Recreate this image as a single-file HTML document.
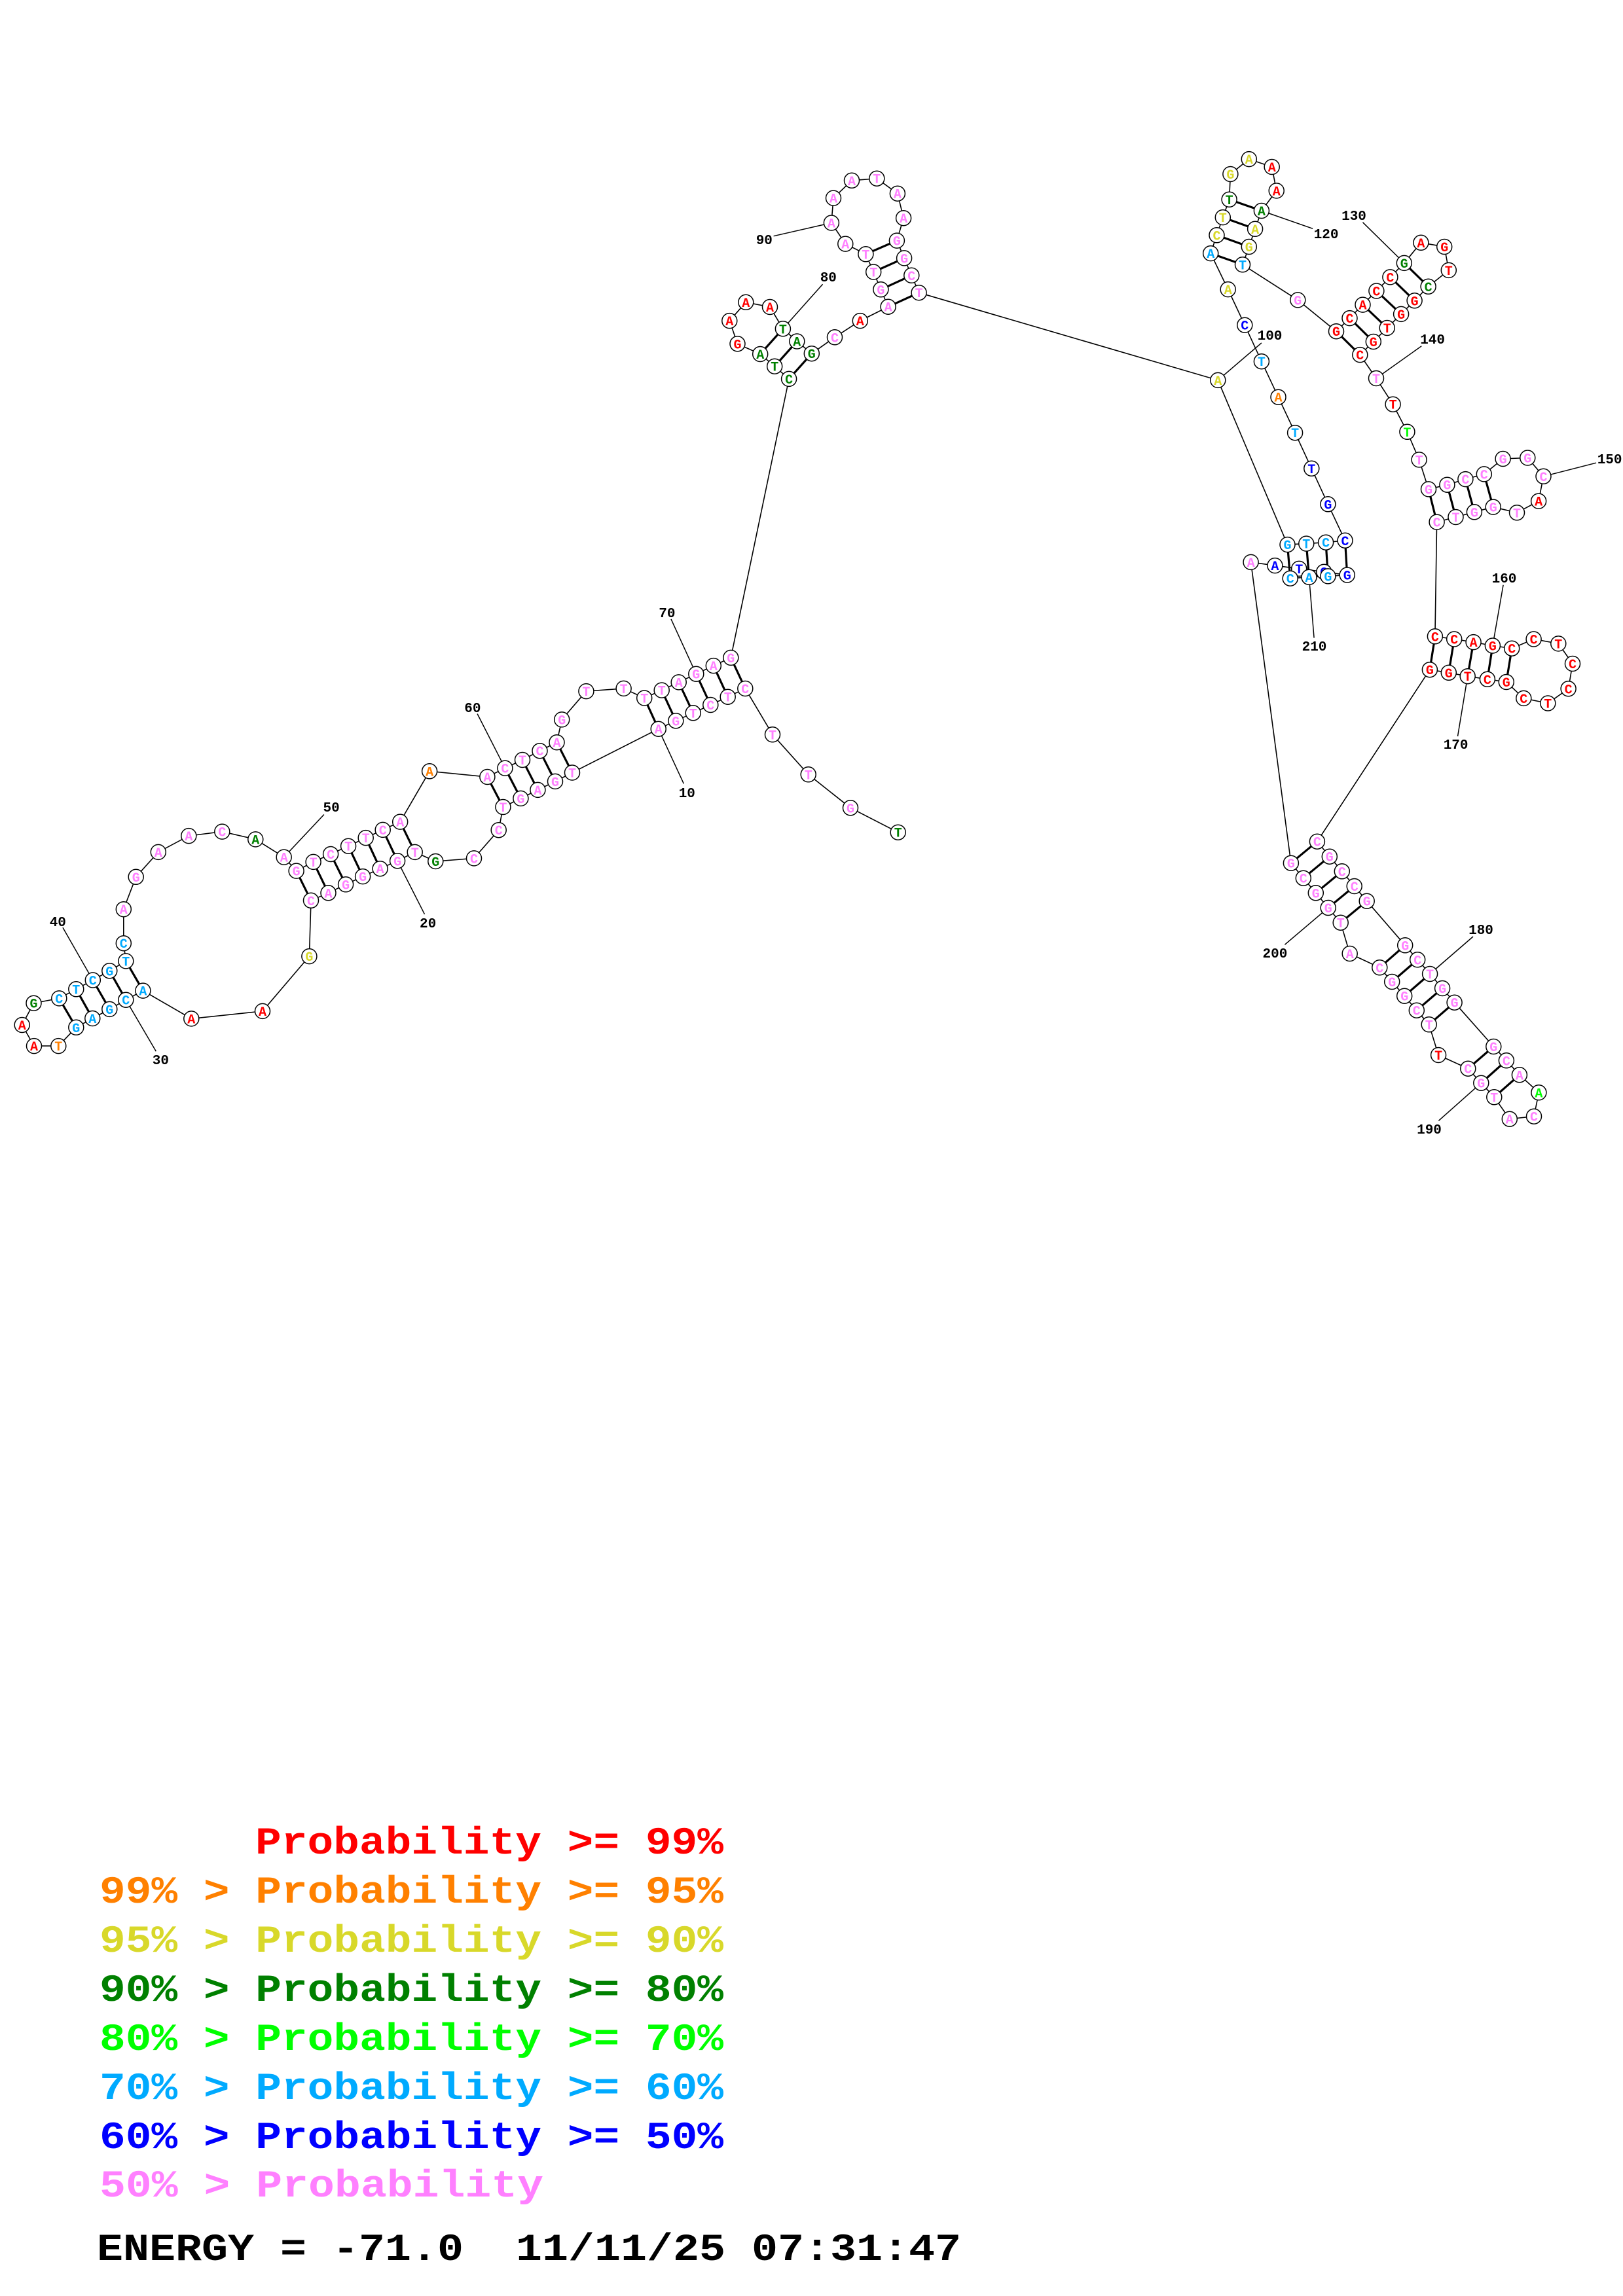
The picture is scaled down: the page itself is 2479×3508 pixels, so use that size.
<!DOCTYPE html>
<html><head><meta charset="utf-8"><title>RNA structure</title>
<style>
html,body{margin:0;padding:0;background:#fff}
svg{display:block}
.n circle{fill:#fff;stroke:#000;stroke-width:1.5}
.n text{font:bold 20px "Liberation Mono",monospace;text-anchor:middle}
.p text{fill:#ff80ff}.r text{fill:#f00}.o text{fill:#ff8000}.y text{fill:#d8d82a}.d text{fill:#008000}.l text{fill:#0f0}.c text{fill:#00aaff}.b text{fill:#00f}
.lab{font:bold 21px "Liberation Mono",monospace;text-anchor:middle;fill:#000}
.leg{font:bold 58px "Liberation Mono",monospace;white-space:pre}
</style></head><body>
<svg xmlns="http://www.w3.org/2000/svg" width="2479" height="3508" viewBox="0 0 2479 3508">
<rect width="2479" height="3508" fill="#fff"/>
<polyline fill="none" stroke="#000" stroke-width="1.6" points="1371.7,1271.7 1299,1234.3 1234.7,1183.3 1180,1122.3 1138.3,1052 1111.7,1064.7 1085.3,1077 1058.7,1089.3 1032.3,1101.3 1005.7,1113.7 874,1180.5 848,1193.9 821.4,1206.9 795.4,1219.9 768.4,1233 761.7,1268.2 724,1311.4 665.3,1316 633.7,1301.9 607.1,1315.3 580.6,1327.2 554.1,1339.1 528.1,1351.3 501.5,1364.3 475,1375.8 472.4,1461.1 401,1544.9 292.3,1556.4 218.4,1513.6 192.3,1527.7 167.3,1541.9 141.3,1556 116.3,1569.8 89.3,1598.1 52,1598.1 33.7,1566 51.5,1532.7 90.3,1525.4 116.3,1511.3 141.8,1497.5 167.3,1483.3 192.3,1468.4 188.8,1441.2 188.8,1389.2 207.7,1339.8 241.8,1301.9 288.3,1277.1 339.3,1270.6 390.3,1282.4 433.7,1309.6 452.6,1330.6 478.6,1316.9 505.1,1305 532.1,1292.7 558.7,1280.1 584.7,1267.9 611.2,1255.6 656.1,1178.3 744.4,1187 771.4,1173.6 798,1161 824.5,1147.2 850.5,1134.2 858.2,1099.4 895.4,1056.1 952.6,1051.9 984.2,1066.5 1010.7,1054.6 1036.7,1042.4 1063.3,1029.7 1089.8,1017.1 1116.3,1004.9 1205.1,578.9 1183.2,559.7 1161.2,541 1126.5,525.3 1114.3,490.1 1139.3,461.8 1176,469 1195.9,502.3 1217.3,521.5 1239.8,540.2 1275,515.3 1313.8,490.1 1356.6,468.7 1345.4,442.3 1334.2,415.5 1322.4,388.3 1291.3,372.6 1269.9,340.5 1273,302.6 1301,275.8 1339.3,272.7 1370.9,295.7 1380.1,333.2 1369.9,367.6 1381.1,394.4 1392.3,420.8 1403.6,447.2 1860.3,580.9 1966.5,832.1 1995.3,830.6 2025.1,828.7 2054.5,825.8 2028.4,770.3 2003.3,715.8 1978.1,661.2 1952.5,606.7 1926.9,552.2 1901.3,496.7 1875.7,442.1 1849.2,387.1 1858.5,359.3 1867.8,332.1 1877.6,304.8 1879.4,266 1907.8,243.1 1942.7,255 1949.7,291.4 1926.9,322 1917.1,349.8 1907.8,377 1898,404.3 1982.3,458.4 2041,506.2 2061.5,486.1 2081.5,465.6 2102.4,444.5 2123.4,423.4 2144.8,401.9 2170.4,370.8 2206.2,377 2212.8,412.9 2181.6,437.8 2160.6,459.3 2140.1,479.9 2118.7,501 2097.8,522 2077.3,542.1 2102,578 2127.6,617.7 2149.4,659.8 2167.6,702.4 2182,747.4 2210.4,740.7 2238.4,732.1 2266.8,724.4 2295.6,701 2333.3,699.5 2357.5,727.8 2350.1,765.6 2317,783.3 2280.7,774.6 2251.9,782.3 2223.5,790 2194.6,797.6 2191.9,972.3 2221.2,976.5 2250.6,981.1 2279.9,986.5 2309.2,990.7 2342.6,976.5 2380.3,983.4 2402,1014 2395.6,1052.3 2364.3,1074.5 2327.3,1066.9 2300.8,1042 2271.9,1037.8 2241.7,1033.2 2212.8,1027.8 2183.9,1023.2 2011.9,1285.7 2030.8,1308.7 2049.8,1331.3 2068.7,1354 2087.7,1376.7 2146.2,1444.3 2165.2,1466.3 2184.1,1488 2203.1,1510 2221.6,1531.7 2281.3,1599 2300.9,1620.3 2320.9,1642.3 2350.4,1669.3 2343,1705.7 2305.8,1709.7 2282.3,1676.3 2262.3,1654.7 2242.3,1632.7 2197.1,1612 2182.7,1565.3 2163.8,1543.7 2145.2,1521.7 2126.2,1500 2107.3,1478.3 2061.7,1457 2047.7,1409.7 2028.7,1387 2009.8,1364.3 1990.8,1341.7 1971.9,1318.7 1910.6,858.9 1947.4,864.1 1984.2,868.9 2022.3,873.7 2057.7,878.5 2028.4,880.4 1999.5,881.8 1970.7,883.7"/>
<path fill="none" stroke="#000" stroke-width="3.2" d="M984.2 1066.5L1005.7 1113.7M1010.7 1054.6L1032.3 1101.3M1036.7 1042.4L1058.7 1089.3M1063.3 1029.7L1085.3 1077M1089.8 1017.1L1111.7 1064.7M1116.3 1004.9L1138.3 1052M850.5 1134.2L874 1180.5M824.5 1147.2L848 1193.9M798 1161L821.4 1206.9M771.4 1173.6L795.4 1219.9M744.4 1187L768.4 1233M611.2 1255.6L633.7 1301.9M584.7 1267.9L607.1 1315.3M558.7 1280.1L580.6 1327.2M532.1 1292.7L554.1 1339.1M505.1 1305L528.1 1351.3M478.6 1316.9L501.5 1364.3M452.6 1330.6L475 1375.8M192.3 1468.4L218.4 1513.6M167.3 1483.3L192.3 1527.7M141.8 1497.5L167.3 1541.9M116.3 1511.3L141.3 1556M90.3 1525.4L116.3 1569.8M1195.9 502.3L1161.2 541M1217.3 521.5L1183.2 559.7M1239.8 540.2L1205.1 578.9M1356.6 468.7L1403.6 447.2M1345.4 442.3L1392.3 420.8M1334.2 415.5L1381.1 394.4M1322.4 388.3L1369.9 367.6M1966.5 832.1L1970.7 883.7M1995.3 830.6L1999.5 881.8M2025.1 828.7L2028.4 880.4M2054.5 825.8L2057.7 878.5M1849.2 387.1L1898 404.3M1858.5 359.3L1907.8 377M1867.8 332.1L1917.1 349.8M1877.6 304.8L1926.9 322M2041 506.2L2077.3 542.1M2061.5 486.1L2097.8 522M2081.5 465.6L2118.7 501M2102.4 444.5L2140.1 479.9M2123.4 423.4L2160.6 459.3M2144.8 401.9L2181.6 437.8M2182 747.4L2194.6 797.6M2210.4 740.7L2223.5 790M2238.4 732.1L2251.9 782.3M2266.8 724.4L2280.7 774.6M2191.9 972.3L2183.9 1023.2M2221.2 976.5L2212.8 1027.8M2250.6 981.1L2241.7 1033.2M2279.9 986.5L2271.9 1037.8M2309.2 990.7L2300.8 1042M2011.9 1285.7L1971.9 1318.7M2030.8 1308.7L1990.8 1341.7M2049.8 1331.3L2009.8 1364.3M2068.7 1354L2028.7 1387M2087.7 1376.7L2047.7 1409.7M2146.2 1444.3L2107.3 1478.3M2165.2 1466.3L2126.2 1500M2184.1 1488L2145.2 1521.7M2203.1 1510L2163.8 1543.7M2221.6 1531.7L2182.7 1565.3M2281.3 1599L2242.3 1632.7M2300.9 1620.3L2262.3 1654.7M2320.9 1642.3L2282.3 1676.3"/>
<path fill="none" stroke="#000" stroke-width="1.5" d="M1005.7 1113.7L1044.3 1197.3M607.1 1315.3L648.5 1396.8M192.3 1527.7L238.3 1606.2M141.8 1497.5L95.9 1417.1M433.7 1309.6L494.9 1244.5M771.4 1173.6L729.1 1090.6M1063.3 1029.7L1025 945.9M1195.9 502.3L1256.6 434.2M1269.9 340.5L1181.6 360.7M1860.3 580.9L1926.9 523.9M1926.9 322L2005.1 349.3M2144.8 401.9L2081.5 339.7M2102 578L2171.3 528.7M2357.5 727.8L2438.1 707.2M2279.9 986.5L2296.1 893.8M2241.7 1033.2L2226.5 1125M2184.1 1488L2250 1431M2262.3 1654.7L2197.4 1712.3M2028.7 1387L1962.4 1443.3M1999.5 881.8L2007.1 974.6"/>
<g class="lab">
<text x="1049.3" y="1218">10</text><text x="653.6" y="1417">20</text><text x="245.4" y="1626">30</text><text x="88.3" y="1415">40</text><text x="506.1" y="1240">50</text><text x="721.9" y="1088">60</text><text x="1018.9" y="943">70</text><text x="1265.3" y="430">80</text><text x="1167.3" y="373">90</text><text x="1939.5" y="519">100</text><text x="2025.6" y="364">120</text><text x="2068" y="336">130</text><text x="2188.1" y="525">140</text><text x="2458.6" y="708">150</text><text x="2297.5" y="890">160</text><text x="2223.6" y="1144">170</text><text x="2262" y="1427">180</text><text x="2183" y="1732">190</text><text x="1947.4" y="1463">200</text><text x="2007.5" y="994">210</text>
</g>
<g class="n">
<g class="d" transform="translate(1371.7 1271.7)"><circle r="11.5"/><text y="7">T</text></g>
<g class="p" transform="translate(1299 1234.3)"><circle r="11.5"/><text y="7">G</text></g>
<g class="p" transform="translate(1234.7 1183.3)"><circle r="11.5"/><text y="7">T</text></g>
<g class="p" transform="translate(1180 1122.3)"><circle r="11.5"/><text y="7">T</text></g>
<g class="p" transform="translate(1138.3 1052)"><circle r="11.5"/><text y="7">C</text></g>
<g class="p" transform="translate(1111.7 1064.7)"><circle r="11.5"/><text y="7">T</text></g>
<g class="p" transform="translate(1085.3 1077)"><circle r="11.5"/><text y="7">C</text></g>
<g class="p" transform="translate(1058.7 1089.3)"><circle r="11.5"/><text y="7">T</text></g>
<g class="p" transform="translate(1032.3 1101.3)"><circle r="11.5"/><text y="7">G</text></g>
<g class="p" transform="translate(1005.7 1113.7)"><circle r="11.5"/><text y="7">A</text></g>
<g class="p" transform="translate(874 1180.5)"><circle r="11.5"/><text y="7">T</text></g>
<g class="p" transform="translate(848 1193.9)"><circle r="11.5"/><text y="7">G</text></g>
<g class="p" transform="translate(821.4 1206.9)"><circle r="11.5"/><text y="7">A</text></g>
<g class="p" transform="translate(795.4 1219.9)"><circle r="11.5"/><text y="7">G</text></g>
<g class="p" transform="translate(768.4 1233)"><circle r="11.5"/><text y="7">T</text></g>
<g class="p" transform="translate(761.7 1268.2)"><circle r="11.5"/><text y="7">C</text></g>
<g class="p" transform="translate(724 1311.4)"><circle r="11.5"/><text y="7">C</text></g>
<g class="d" transform="translate(665.3 1316)"><circle r="11.5"/><text y="7">G</text></g>
<g class="p" transform="translate(633.7 1301.9)"><circle r="11.5"/><text y="7">T</text></g>
<g class="p" transform="translate(607.1 1315.3)"><circle r="11.5"/><text y="7">G</text></g>
<g class="p" transform="translate(580.6 1327.2)"><circle r="11.5"/><text y="7">A</text></g>
<g class="p" transform="translate(554.1 1339.1)"><circle r="11.5"/><text y="7">G</text></g>
<g class="p" transform="translate(528.1 1351.3)"><circle r="11.5"/><text y="7">G</text></g>
<g class="p" transform="translate(501.5 1364.3)"><circle r="11.5"/><text y="7">A</text></g>
<g class="p" transform="translate(475 1375.8)"><circle r="11.5"/><text y="7">C</text></g>
<g class="y" transform="translate(472.4 1461.1)"><circle r="11.5"/><text y="7">G</text></g>
<g class="r" transform="translate(401 1544.9)"><circle r="11.5"/><text y="7">A</text></g>
<g class="r" transform="translate(292.3 1556.4)"><circle r="11.5"/><text y="7">A</text></g>
<g class="c" transform="translate(218.4 1513.6)"><circle r="11.5"/><text y="7">A</text></g>
<g class="c" transform="translate(192.3 1527.7)"><circle r="11.5"/><text y="7">C</text></g>
<g class="c" transform="translate(167.3 1541.9)"><circle r="11.5"/><text y="7">G</text></g>
<g class="c" transform="translate(141.3 1556)"><circle r="11.5"/><text y="7">A</text></g>
<g class="c" transform="translate(116.3 1569.8)"><circle r="11.5"/><text y="7">G</text></g>
<g class="o" transform="translate(89.3 1598.1)"><circle r="11.5"/><text y="7">T</text></g>
<g class="r" transform="translate(52 1598.1)"><circle r="11.5"/><text y="7">A</text></g>
<g class="r" transform="translate(33.7 1566)"><circle r="11.5"/><text y="7">A</text></g>
<g class="d" transform="translate(51.5 1532.7)"><circle r="11.5"/><text y="7">G</text></g>
<g class="c" transform="translate(90.3 1525.4)"><circle r="11.5"/><text y="7">C</text></g>
<g class="c" transform="translate(116.3 1511.3)"><circle r="11.5"/><text y="7">T</text></g>
<g class="c" transform="translate(141.8 1497.5)"><circle r="11.5"/><text y="7">C</text></g>
<g class="c" transform="translate(167.3 1483.3)"><circle r="11.5"/><text y="7">G</text></g>
<g class="c" transform="translate(192.3 1468.4)"><circle r="11.5"/><text y="7">T</text></g>
<g class="c" transform="translate(188.8 1441.2)"><circle r="11.5"/><text y="7">C</text></g>
<g class="p" transform="translate(188.8 1389.2)"><circle r="11.5"/><text y="7">A</text></g>
<g class="p" transform="translate(207.7 1339.8)"><circle r="11.5"/><text y="7">G</text></g>
<g class="p" transform="translate(241.8 1301.9)"><circle r="11.5"/><text y="7">A</text></g>
<g class="p" transform="translate(288.3 1277.1)"><circle r="11.5"/><text y="7">A</text></g>
<g class="p" transform="translate(339.3 1270.6)"><circle r="11.5"/><text y="7">C</text></g>
<g class="d" transform="translate(390.3 1282.4)"><circle r="11.5"/><text y="7">A</text></g>
<g class="p" transform="translate(433.7 1309.6)"><circle r="11.5"/><text y="7">A</text></g>
<g class="p" transform="translate(452.6 1330.6)"><circle r="11.5"/><text y="7">G</text></g>
<g class="p" transform="translate(478.6 1316.9)"><circle r="11.5"/><text y="7">T</text></g>
<g class="p" transform="translate(505.1 1305)"><circle r="11.5"/><text y="7">C</text></g>
<g class="p" transform="translate(532.1 1292.7)"><circle r="11.5"/><text y="7">T</text></g>
<g class="p" transform="translate(558.7 1280.1)"><circle r="11.5"/><text y="7">T</text></g>
<g class="p" transform="translate(584.7 1267.9)"><circle r="11.5"/><text y="7">C</text></g>
<g class="p" transform="translate(611.2 1255.6)"><circle r="11.5"/><text y="7">A</text></g>
<g class="o" transform="translate(656.1 1178.3)"><circle r="11.5"/><text y="7">A</text></g>
<g class="p" transform="translate(744.4 1187)"><circle r="11.5"/><text y="7">A</text></g>
<g class="p" transform="translate(771.4 1173.6)"><circle r="11.5"/><text y="7">C</text></g>
<g class="p" transform="translate(798 1161)"><circle r="11.5"/><text y="7">T</text></g>
<g class="p" transform="translate(824.5 1147.2)"><circle r="11.5"/><text y="7">C</text></g>
<g class="p" transform="translate(850.5 1134.2)"><circle r="11.5"/><text y="7">A</text></g>
<g class="p" transform="translate(858.2 1099.4)"><circle r="11.5"/><text y="7">G</text></g>
<g class="p" transform="translate(895.4 1056.1)"><circle r="11.5"/><text y="7">T</text></g>
<g class="p" transform="translate(952.6 1051.9)"><circle r="11.5"/><text y="7">T</text></g>
<g class="p" transform="translate(984.2 1066.5)"><circle r="11.5"/><text y="7">T</text></g>
<g class="p" transform="translate(1010.7 1054.6)"><circle r="11.5"/><text y="7">T</text></g>
<g class="p" transform="translate(1036.7 1042.4)"><circle r="11.5"/><text y="7">A</text></g>
<g class="p" transform="translate(1063.3 1029.7)"><circle r="11.5"/><text y="7">G</text></g>
<g class="p" transform="translate(1089.8 1017.1)"><circle r="11.5"/><text y="7">A</text></g>
<g class="p" transform="translate(1116.3 1004.9)"><circle r="11.5"/><text y="7">G</text></g>
<g class="d" transform="translate(1205.1 578.9)"><circle r="11.5"/><text y="7">C</text></g>
<g class="d" transform="translate(1183.2 559.7)"><circle r="11.5"/><text y="7">T</text></g>
<g class="d" transform="translate(1161.2 541)"><circle r="11.5"/><text y="7">A</text></g>
<g class="r" transform="translate(1126.5 525.3)"><circle r="11.5"/><text y="7">G</text></g>
<g class="r" transform="translate(1114.3 490.1)"><circle r="11.5"/><text y="7">A</text></g>
<g class="r" transform="translate(1139.3 461.8)"><circle r="11.5"/><text y="7">A</text></g>
<g class="r" transform="translate(1176 469)"><circle r="11.5"/><text y="7">A</text></g>
<g class="d" transform="translate(1195.9 502.3)"><circle r="11.5"/><text y="7">T</text></g>
<g class="d" transform="translate(1217.3 521.5)"><circle r="11.5"/><text y="7">A</text></g>
<g class="d" transform="translate(1239.8 540.2)"><circle r="11.5"/><text y="7">G</text></g>
<g class="p" transform="translate(1275 515.3)"><circle r="11.5"/><text y="7">C</text></g>
<g class="r" transform="translate(1313.8 490.1)"><circle r="11.5"/><text y="7">A</text></g>
<g class="p" transform="translate(1356.6 468.7)"><circle r="11.5"/><text y="7">A</text></g>
<g class="p" transform="translate(1345.4 442.3)"><circle r="11.5"/><text y="7">G</text></g>
<g class="p" transform="translate(1334.2 415.5)"><circle r="11.5"/><text y="7">T</text></g>
<g class="p" transform="translate(1322.4 388.3)"><circle r="11.5"/><text y="7">T</text></g>
<g class="p" transform="translate(1291.3 372.6)"><circle r="11.5"/><text y="7">A</text></g>
<g class="p" transform="translate(1269.9 340.5)"><circle r="11.5"/><text y="7">A</text></g>
<g class="p" transform="translate(1273 302.6)"><circle r="11.5"/><text y="7">A</text></g>
<g class="p" transform="translate(1301 275.8)"><circle r="11.5"/><text y="7">A</text></g>
<g class="p" transform="translate(1339.3 272.7)"><circle r="11.5"/><text y="7">T</text></g>
<g class="p" transform="translate(1370.9 295.7)"><circle r="11.5"/><text y="7">A</text></g>
<g class="p" transform="translate(1380.1 333.2)"><circle r="11.5"/><text y="7">A</text></g>
<g class="p" transform="translate(1369.9 367.6)"><circle r="11.5"/><text y="7">G</text></g>
<g class="p" transform="translate(1381.1 394.4)"><circle r="11.5"/><text y="7">G</text></g>
<g class="p" transform="translate(1392.3 420.8)"><circle r="11.5"/><text y="7">C</text></g>
<g class="p" transform="translate(1403.6 447.2)"><circle r="11.5"/><text y="7">T</text></g>
<g class="y" transform="translate(1860.3 580.9)"><circle r="11.5"/><text y="7">A</text></g>
<g class="c" transform="translate(1966.5 832.1)"><circle r="11.5"/><text y="7">G</text></g>
<g class="c" transform="translate(1995.3 830.6)"><circle r="11.5"/><text y="7">T</text></g>
<g class="c" transform="translate(2025.1 828.7)"><circle r="11.5"/><text y="7">C</text></g>
<g class="b" transform="translate(2054.5 825.8)"><circle r="11.5"/><text y="7">C</text></g>
<g class="b" transform="translate(2028.4 770.3)"><circle r="11.5"/><text y="7">G</text></g>
<g class="b" transform="translate(2003.3 715.8)"><circle r="11.5"/><text y="7">T</text></g>
<g class="c" transform="translate(1978.1 661.2)"><circle r="11.5"/><text y="7">T</text></g>
<g class="o" transform="translate(1952.5 606.7)"><circle r="11.5"/><text y="7">A</text></g>
<g class="c" transform="translate(1926.9 552.2)"><circle r="11.5"/><text y="7">T</text></g>
<g class="b" transform="translate(1901.3 496.7)"><circle r="11.5"/><text y="7">C</text></g>
<g class="y" transform="translate(1875.7 442.1)"><circle r="11.5"/><text y="7">A</text></g>
<g class="c" transform="translate(1849.2 387.1)"><circle r="11.5"/><text y="7">A</text></g>
<g class="y" transform="translate(1858.5 359.3)"><circle r="11.5"/><text y="7">C</text></g>
<g class="y" transform="translate(1867.8 332.1)"><circle r="11.5"/><text y="7">T</text></g>
<g class="d" transform="translate(1877.6 304.8)"><circle r="11.5"/><text y="7">T</text></g>
<g class="y" transform="translate(1879.4 266)"><circle r="11.5"/><text y="7">G</text></g>
<g class="y" transform="translate(1907.8 243.1)"><circle r="11.5"/><text y="7">A</text></g>
<g class="r" transform="translate(1942.7 255)"><circle r="11.5"/><text y="7">A</text></g>
<g class="r" transform="translate(1949.7 291.4)"><circle r="11.5"/><text y="7">A</text></g>
<g class="d" transform="translate(1926.9 322)"><circle r="11.5"/><text y="7">A</text></g>
<g class="y" transform="translate(1917.1 349.8)"><circle r="11.5"/><text y="7">A</text></g>
<g class="y" transform="translate(1907.8 377)"><circle r="11.5"/><text y="7">G</text></g>
<g class="c" transform="translate(1898 404.3)"><circle r="11.5"/><text y="7">T</text></g>
<g class="p" transform="translate(1982.3 458.4)"><circle r="11.5"/><text y="7">G</text></g>
<g class="r" transform="translate(2041 506.2)"><circle r="11.5"/><text y="7">G</text></g>
<g class="r" transform="translate(2061.5 486.1)"><circle r="11.5"/><text y="7">C</text></g>
<g class="r" transform="translate(2081.5 465.6)"><circle r="11.5"/><text y="7">A</text></g>
<g class="r" transform="translate(2102.4 444.5)"><circle r="11.5"/><text y="7">C</text></g>
<g class="r" transform="translate(2123.4 423.4)"><circle r="11.5"/><text y="7">C</text></g>
<g class="d" transform="translate(2144.8 401.9)"><circle r="11.5"/><text y="7">G</text></g>
<g class="r" transform="translate(2170.4 370.8)"><circle r="11.5"/><text y="7">A</text></g>
<g class="r" transform="translate(2206.2 377)"><circle r="11.5"/><text y="7">G</text></g>
<g class="r" transform="translate(2212.8 412.9)"><circle r="11.5"/><text y="7">T</text></g>
<g class="d" transform="translate(2181.6 437.8)"><circle r="11.5"/><text y="7">C</text></g>
<g class="r" transform="translate(2160.6 459.3)"><circle r="11.5"/><text y="7">G</text></g>
<g class="r" transform="translate(2140.1 479.9)"><circle r="11.5"/><text y="7">G</text></g>
<g class="r" transform="translate(2118.7 501)"><circle r="11.5"/><text y="7">T</text></g>
<g class="r" transform="translate(2097.8 522)"><circle r="11.5"/><text y="7">G</text></g>
<g class="r" transform="translate(2077.3 542.1)"><circle r="11.5"/><text y="7">C</text></g>
<g class="p" transform="translate(2102 578)"><circle r="11.5"/><text y="7">T</text></g>
<g class="r" transform="translate(2127.6 617.7)"><circle r="11.5"/><text y="7">T</text></g>
<g class="l" transform="translate(2149.4 659.8)"><circle r="11.5"/><text y="7">T</text></g>
<g class="p" transform="translate(2167.6 702.4)"><circle r="11.5"/><text y="7">T</text></g>
<g class="p" transform="translate(2182 747.4)"><circle r="11.5"/><text y="7">G</text></g>
<g class="p" transform="translate(2210.4 740.7)"><circle r="11.5"/><text y="7">G</text></g>
<g class="p" transform="translate(2238.4 732.1)"><circle r="11.5"/><text y="7">C</text></g>
<g class="p" transform="translate(2266.8 724.4)"><circle r="11.5"/><text y="7">C</text></g>
<g class="p" transform="translate(2295.6 701)"><circle r="11.5"/><text y="7">G</text></g>
<g class="p" transform="translate(2333.3 699.5)"><circle r="11.5"/><text y="7">G</text></g>
<g class="p" transform="translate(2357.5 727.8)"><circle r="11.5"/><text y="7">C</text></g>
<g class="r" transform="translate(2350.1 765.6)"><circle r="11.5"/><text y="7">A</text></g>
<g class="p" transform="translate(2317 783.3)"><circle r="11.5"/><text y="7">T</text></g>
<g class="p" transform="translate(2280.7 774.6)"><circle r="11.5"/><text y="7">G</text></g>
<g class="p" transform="translate(2251.9 782.3)"><circle r="11.5"/><text y="7">G</text></g>
<g class="p" transform="translate(2223.5 790)"><circle r="11.5"/><text y="7">T</text></g>
<g class="p" transform="translate(2194.6 797.6)"><circle r="11.5"/><text y="7">C</text></g>
<g class="r" transform="translate(2191.9 972.3)"><circle r="11.5"/><text y="7">C</text></g>
<g class="r" transform="translate(2221.2 976.5)"><circle r="11.5"/><text y="7">C</text></g>
<g class="r" transform="translate(2250.6 981.1)"><circle r="11.5"/><text y="7">A</text></g>
<g class="r" transform="translate(2279.9 986.5)"><circle r="11.5"/><text y="7">G</text></g>
<g class="r" transform="translate(2309.2 990.7)"><circle r="11.5"/><text y="7">C</text></g>
<g class="r" transform="translate(2342.6 976.5)"><circle r="11.5"/><text y="7">C</text></g>
<g class="r" transform="translate(2380.3 983.4)"><circle r="11.5"/><text y="7">T</text></g>
<g class="r" transform="translate(2402 1014)"><circle r="11.5"/><text y="7">C</text></g>
<g class="r" transform="translate(2395.6 1052.3)"><circle r="11.5"/><text y="7">C</text></g>
<g class="r" transform="translate(2364.3 1074.5)"><circle r="11.5"/><text y="7">T</text></g>
<g class="r" transform="translate(2327.3 1066.9)"><circle r="11.5"/><text y="7">C</text></g>
<g class="r" transform="translate(2300.8 1042)"><circle r="11.5"/><text y="7">G</text></g>
<g class="r" transform="translate(2271.9 1037.8)"><circle r="11.5"/><text y="7">C</text></g>
<g class="r" transform="translate(2241.7 1033.2)"><circle r="11.5"/><text y="7">T</text></g>
<g class="r" transform="translate(2212.8 1027.8)"><circle r="11.5"/><text y="7">G</text></g>
<g class="r" transform="translate(2183.9 1023.2)"><circle r="11.5"/><text y="7">G</text></g>
<g class="p" transform="translate(2011.9 1285.7)"><circle r="11.5"/><text y="7">C</text></g>
<g class="p" transform="translate(2030.8 1308.7)"><circle r="11.5"/><text y="7">G</text></g>
<g class="p" transform="translate(2049.8 1331.3)"><circle r="11.5"/><text y="7">C</text></g>
<g class="p" transform="translate(2068.7 1354)"><circle r="11.5"/><text y="7">C</text></g>
<g class="p" transform="translate(2087.7 1376.7)"><circle r="11.5"/><text y="7">G</text></g>
<g class="p" transform="translate(2146.2 1444.3)"><circle r="11.5"/><text y="7">G</text></g>
<g class="p" transform="translate(2165.2 1466.3)"><circle r="11.5"/><text y="7">C</text></g>
<g class="p" transform="translate(2184.1 1488)"><circle r="11.5"/><text y="7">T</text></g>
<g class="p" transform="translate(2203.1 1510)"><circle r="11.5"/><text y="7">G</text></g>
<g class="p" transform="translate(2221.6 1531.7)"><circle r="11.5"/><text y="7">G</text></g>
<g class="p" transform="translate(2281.3 1599)"><circle r="11.5"/><text y="7">G</text></g>
<g class="p" transform="translate(2300.9 1620.3)"><circle r="11.5"/><text y="7">C</text></g>
<g class="p" transform="translate(2320.9 1642.3)"><circle r="11.5"/><text y="7">A</text></g>
<g class="l" transform="translate(2350.4 1669.3)"><circle r="11.5"/><text y="7">A</text></g>
<g class="p" transform="translate(2343 1705.7)"><circle r="11.5"/><text y="7">C</text></g>
<g class="p" transform="translate(2305.8 1709.7)"><circle r="11.5"/><text y="7">A</text></g>
<g class="p" transform="translate(2282.3 1676.3)"><circle r="11.5"/><text y="7">T</text></g>
<g class="p" transform="translate(2262.3 1654.7)"><circle r="11.5"/><text y="7">G</text></g>
<g class="p" transform="translate(2242.3 1632.7)"><circle r="11.5"/><text y="7">C</text></g>
<g class="r" transform="translate(2197.1 1612)"><circle r="11.5"/><text y="7">T</text></g>
<g class="p" transform="translate(2182.7 1565.3)"><circle r="11.5"/><text y="7">T</text></g>
<g class="p" transform="translate(2163.8 1543.7)"><circle r="11.5"/><text y="7">C</text></g>
<g class="p" transform="translate(2145.2 1521.7)"><circle r="11.5"/><text y="7">G</text></g>
<g class="p" transform="translate(2126.2 1500)"><circle r="11.5"/><text y="7">G</text></g>
<g class="p" transform="translate(2107.3 1478.3)"><circle r="11.5"/><text y="7">C</text></g>
<g class="p" transform="translate(2061.7 1457)"><circle r="11.5"/><text y="7">A</text></g>
<g class="p" transform="translate(2047.7 1409.7)"><circle r="11.5"/><text y="7">T</text></g>
<g class="p" transform="translate(2028.7 1387)"><circle r="11.5"/><text y="7">G</text></g>
<g class="p" transform="translate(2009.8 1364.3)"><circle r="11.5"/><text y="7">G</text></g>
<g class="p" transform="translate(1990.8 1341.7)"><circle r="11.5"/><text y="7">C</text></g>
<g class="p" transform="translate(1971.9 1318.7)"><circle r="11.5"/><text y="7">G</text></g>
<g class="p" transform="translate(1910.6 858.9)"><circle r="11.5"/><text y="7">A</text></g>
<g class="b" transform="translate(1947.4 864.1)"><circle r="11.5"/><text y="7">A</text></g>
<g class="b" transform="translate(1984.2 868.9)"><circle r="11.5"/><text y="7">T</text></g>
<g class="b" transform="translate(2022.3 873.7)"><circle r="11.5"/><text y="7">C</text></g>
<g class="b" transform="translate(2057.7 878.5)"><circle r="11.5"/><text y="7">G</text></g>
<g class="c" transform="translate(2028.4 880.4)"><circle r="11.5"/><text y="7">G</text></g>
<g class="c" transform="translate(1999.5 881.8)"><circle r="11.5"/><text y="7">A</text></g>
<g class="c" transform="translate(1970.7 883.7)"><circle r="11.5"/><text y="7">C</text></g>
</g>
<g class="leg">
<text x="390" y="2832" fill="#ff0000" textLength="715" lengthAdjust="spacingAndGlyphs" xml:space="preserve">Probability &gt;= 99%</text>
<text x="152" y="2907" fill="#ff8000" textLength="953" lengthAdjust="spacingAndGlyphs" xml:space="preserve">99% &gt; Probability &gt;= 95%</text>
<text x="152" y="2982" fill="#d8d82a" textLength="953" lengthAdjust="spacingAndGlyphs" xml:space="preserve">95% &gt; Probability &gt;= 90%</text>
<text x="152" y="3057" fill="#008000" textLength="953" lengthAdjust="spacingAndGlyphs" xml:space="preserve">90% &gt; Probability &gt;= 80%</text>
<text x="152" y="3132" fill="#00ff00" textLength="953" lengthAdjust="spacingAndGlyphs" xml:space="preserve">80% &gt; Probability &gt;= 70%</text>
<text x="152" y="3207" fill="#00aaff" textLength="953" lengthAdjust="spacingAndGlyphs" xml:space="preserve">70% &gt; Probability &gt;= 60%</text>
<text x="152" y="3282" fill="#0000ff" textLength="953" lengthAdjust="spacingAndGlyphs" xml:space="preserve">60% &gt; Probability &gt;= 50%</text>
<text x="152" y="3356" fill="#ff80ff" textLength="678" lengthAdjust="spacingAndGlyphs" xml:space="preserve">50% &gt; Probability</text>
<text x="148" y="3453" fill="#000" textLength="1320" lengthAdjust="spacingAndGlyphs" xml:space="preserve">ENERGY = -71.0  11/11/25 07:31:47</text>
</g>
</svg>
</body></html>
